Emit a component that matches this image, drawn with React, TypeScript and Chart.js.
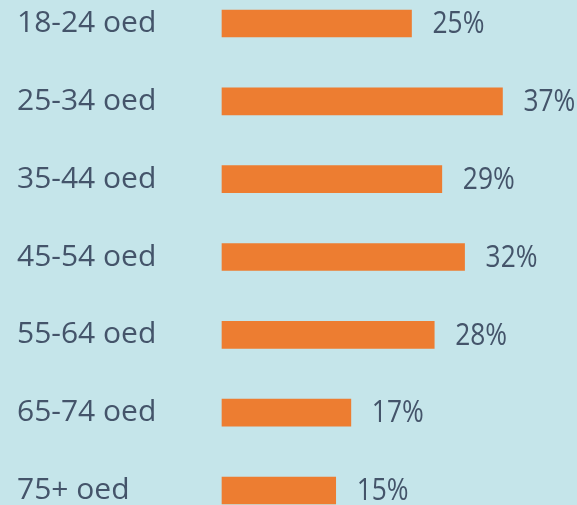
import React, { useEffect, useRef } from "react";
import { Chart, registerables } from "chart.js";

Chart.register(...registerables);

const categories = ["18-24 oed", "25-34 oed", "35-44 oed", "45-54 oed", "55-64 oed", "65-74 oed", "75+ oed"];
const values = [25, 37, 29, 32, 28, 17, 15];
const valueLabels = ["25%", "37%", "29%", "32%", "28%", "17%", "15%"];

const FONT = "'Open Sans', 'Noto Sans', sans-serif";
const TEXT = "#44546A";
const BAR = "#ED7D31";
const BG = "#C5E5EA";

const valueLabelPlugin = {
  id: "valueLabels",
  afterDatasetsDraw(chart: any) {
    const ctx = chart.ctx;
    const meta = chart.getDatasetMeta(0);
    meta.data.forEach((bar: any, i: number) => {
      ctx.save();
      ctx.font = `31px ${FONT}`;
      ctx.fillStyle = TEXT;
      ctx.textAlign = "left";
      ctx.textBaseline = "middle";
      ctx.translate(bar.x + 21, bar.y + 1);
      ctx.scale(0.85, 1);
      ctx.fillText(valueLabels[i], 0, 0);
      ctx.restore();
    });
  },
};

export default function App() {
  const ref = useRef<HTMLCanvasElement | null>(null);

  useEffect(() => {
    if (!ref.current) return;
    const chart = new Chart(ref.current, {
      type: "bar",
      data: {
        labels: categories,
        datasets: [
          {
            data: values,
            backgroundColor: BAR,
            barThickness: 27,
            clip: false as any,
          },
        ],
      },
      options: {
        indexAxis: "y",
        animation: false,
        responsive: false,
        layout: { padding: { left: 17, right: 51.8, top: 23.5, bottom: 14.5 } },
        plugins: {
          legend: { display: false },
          tooltip: { enabled: false },
        },
        scales: {
          x: { display: false, min: 0, max: 40 },
          y: {
            offset: false,
            grid: { display: false },
            border: { display: false },
            ticks: {
              crossAlign: "far",
              color: TEXT,
              padding: 0,
              font: { family: FONT, size: 30, lineHeight: 0.5 },
            },
            afterFit: (s: any) => {
              s.width = 205;
            },
          },
        },
      },
      plugins: [valueLabelPlugin],
    });
    return () => chart.destroy();
  }, []);

  return (
    <div
      style={{
        position: "fixed",
        top: 0,
        left: 0,
        width: 577,
        height: 505,
        background: BG,
        overflow: "hidden",
      }}
    >
      <canvas ref={ref} width={577} height={505} style={{ display: "block" }} />
    </div>
  );
}
